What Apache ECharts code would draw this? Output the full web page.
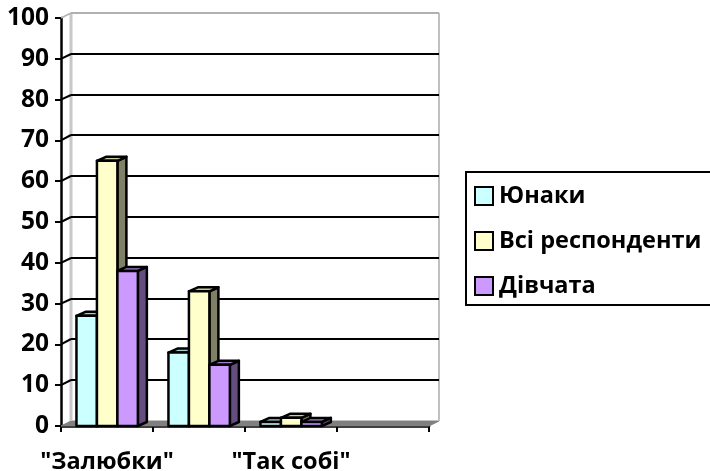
<!DOCTYPE html>
<html>
<head>
<meta charset="utf-8">
<style>html,body{margin:0;padding:0;background:#fff;overflow:hidden}#c{width:710px;height:471px}</style>
<script src="https://cdn.jsdelivr.net/npm/echarts@6/dist/echarts.min.js"></script>
</head>
<body>
<div id="c"></div>
<script>
const categories = ['"Залюбки"', '', '"Так собі"', ''];
const seriesNames = ['Юнаки', 'Всі респонденти', 'Дівчата'];
const boys = [27, 18, 1, 0];
const allRespondents = [65, 33, 2, 0];
const girls = [38, 15, 1, 0];
const yTicks = [0, 10, 20, 30, 40, 50, 60, 70, 80, 90, 100];

const frontColors = ['#CCFFFF', '#FFFFCC', '#CC99FF'];
const topColors = ['#A3CCCC', '#CCCCA3', '#A37ACC'];
const sideColors = ['#668080', '#808066', '#664D80'];
const FONT = '"Open Sans"';
const DX = 10, DY = -5, BDX = 9, BDY = -4;

const chart = echarts.init(document.getElementById('c'), null, {renderer: 'canvas'});

function renderWall(params, api) {
  const v = api.value(1);
  const cs = params.coordSys;
  const y = api.coord([0, v])[1];
  const x0 = cs.x, x1 = cs.x + cs.width;
  const yb = Math.round(y + DY);
  const children = [];
  const ln = (a, b, c, d, col, w) => ({type: 'line', shape: {x1: a, y1: b, x2: c, y2: d}, style: {stroke: col, lineWidth: w}});
  if (v === 0) {
    children.push({type: 'polygon', shape: {points: [[x0, y], [x1, y], [x1 + DX, y + DY], [x0 + DX, y + DY]]},
      style: {fill: '#808080', stroke: '#808080', lineWidth: 1}});
    children.push(ln(x1 + DX, cs.y + DY, x1 + DX, y + DY, '#C0C0C0', 2));
    children.push(ln(x0 + DX, cs.y + DY, x0 + DX, y + DY, '#C8C8C8', 3));
  } else if (v === 100) {
    children.push(ln(x0 + DX, yb, x1 + DX, yb, '#B0B0B0', 2));
    children.push(ln(x0, y, x0 + DX, yb, '#B0B0B0', 1.5));
  } else {
    children.push(ln(x0 + DX, yb, x1 + DX, yb, '#000', 2));
    children.push(ln(x0, y, x0 + DX, yb, '#000', 2));
  }
  return {type: 'group', children};
}

function makeBar(idx) {
  return function (params, api) {
    const cat = api.value(0), val = api.value(1);
    const c = api.coord([cat, val]);
    const base = api.coord([cat, 0]);
    const band = api.size([1, 0])[0];
    const w = band * 0.2225;
    const left = c[0] - band / 2 + band * 0.168 + idx * w;
    const right = left + w;
    const top = c[1], bot = base[1];
    if (val === 0) return null;
    const st = f => ({fill: f, stroke: '#000', lineWidth: 2.5, lineJoin: 'round'});
    return {type: 'group', children: [
      {type: 'polygon', shape: {points: [[right, top], [right + BDX, top + BDY], [right + BDX, bot + BDY], [right, bot]]}, style: st(sideColors[idx])},
      {type: 'polygon', shape: {points: [[left, top], [left + BDX, top + BDY], [right + BDX, top + BDY], [right, top]]}, style: st(topColors[idx])},
      {type: 'rect', shape: {x: left, y: top, width: w, height: bot - top}, style: st(frontColors[idx])}
    ]};
  };
}

const values = [boys, allRespondents, girls];

chart.setOption({
  animation: false,
  backgroundColor: '#fff',
  grid: {left: 61, top: 18, width: 368, height: 408, containLabel: false, outerBoundsMode: 'none'},
  legend: {
    orient: 'vertical', left: 466, top: 172, padding: [12, 40, 7, 8],
    borderColor: '#000', borderWidth: 2, itemGap: 21, itemWidth: 18, itemHeight: 18,
    textStyle: {fontFamily: FONT, fontWeight: 'bold', fontSize: 23.5, color: '#000', padding: [0, 0, 0, 1]},
    data: seriesNames.map((n, i) => ({name: n, icon: 'rect',
      itemStyle: {color: frontColors[i], borderColor: '#000', borderWidth: 2}}))
  },
  xAxis: {
    type: 'category', data: categories,
    axisLine: {lineStyle: {color: '#000', width: 2.5}},
    axisTick: {show: true, alignWithLabel: false, interval: 0, length: 6, lineStyle: {color: '#000', width: 2}},
    axisLabel: {interval: 0, margin: 24, fontFamily: FONT, fontWeight: 'bold', fontSize: 23.5, color: '#000'},
    splitLine: {show: false}
  },
  yAxis: {
    type: 'value', min: 0, max: 100, interval: 10,
    axisLine: {show: true, lineStyle: {color: '#000', width: 2.5}},
    axisTick: {show: true, length: 6, lineStyle: {color: '#000', width: 2}},
    axisLabel: {margin: 12, padding: [2, 0, 0, 0], fontFamily: FONT, fontWeight: 'bold', fontSize: 24.5, color: '#000'},
    splitLine: {show: false}
  },
  series: [
    {type: 'custom', name: 'wall', silent: true, z: 1, clip: false, renderItem: renderWall,
     encode: {x: 0, y: 1}, data: yTicks.map(v => [0, v])}
  ].concat(seriesNames.map((n, i) => ({
    type: 'custom', name: n, z: 3 + i, clip: false, renderItem: makeBar(i),
    itemStyle: {color: frontColors[i]},
    encode: {x: 0, y: 1}, data: values[i].map((v, k) => [k, v])
  })))
});
</script>
</body>
</html>
